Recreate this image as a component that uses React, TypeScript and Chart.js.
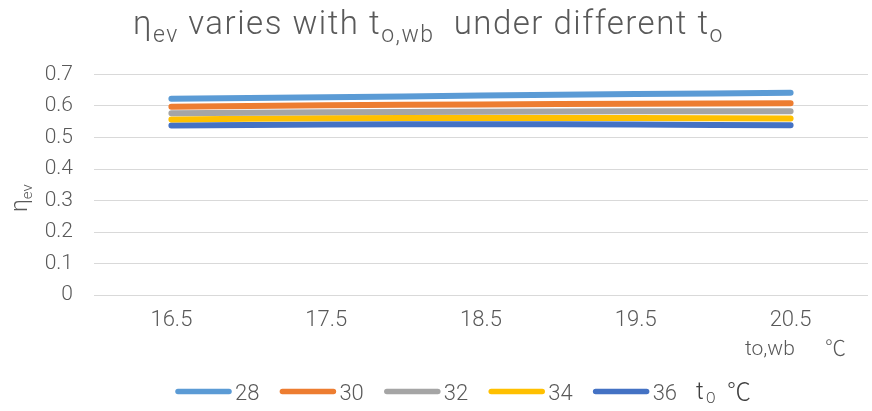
import { useEffect, useRef } from "react";
import { Chart, registerables } from "chart.js";

Chart.register(...registerables);

// Wet-bulb temperature categories (°C)
const categories = ["16.5", "17.5", "18.5", "19.5", "20.5"];

// Outdoor dry-bulb temperature series labels (°C)
const seriesLabels = ["28", "30", "32", "34", "36"];

// Evaporative efficiency for each outdoor temperature
const eta28 = [0.623, 0.628, 0.633, 0.638, 0.642];
const eta30 = [0.598, 0.602, 0.605, 0.607, 0.609];
const eta32 = [0.577, 0.58, 0.582, 0.583, 0.583];
const eta34 = [0.557, 0.561, 0.562, 0.562, 0.56];
const eta36 = [0.538, 0.541, 0.542, 0.541, 0.539];

const seriesValues = [eta28, eta30, eta32, eta34, eta36];
const seriesColors = ["#5B9BD5", "#ED7D31", "#A5A5A5", "#FFC000", "#4472C4"];

const yMin = 0;
const yMax = 0.7;
const yStep = 0.1;

const FONT = "Roboto, 'Noto Sans CJK SC', sans-serif";
const TEXT = "#595959";

type Run = [string, boolean];

// Draws a run of text pieces, where pieces flagged true are subscripts.
function drawRuns(
  ctx: CanvasRenderingContext2D,
  runs: Run[],
  x: number,
  y: number,
  size: number,
  subSize: number,
  subDrop: number
) {
  let cx = x;
  for (const [txt, sub] of runs) {
    ctx.font = `300 ${sub ? subSize : size}px ${FONT}`;
    ctx.fillText(txt, cx, sub ? y + subDrop : y);
    cx += ctx.measureText(txt).width;
  }
  return cx;
}

const annotations = {
  id: "annotations",
  afterDraw(chart: any) {
    const ctx: CanvasRenderingContext2D = chart.ctx;
    ctx.save();
    ctx.fillStyle = TEXT;
    ctx.textAlign = "left";
    ctx.textBaseline = "alphabetic";

    // Title
    (ctx as any).letterSpacing = "1.5px";
    drawRuns(
      ctx,
      [
        ["η", false],
        ["ev", true],
        [" varies with t", false],
        ["o,wb", true],
        ["  under different t", false],
        ["o", true],
      ],
      133,
      34,
      33,
      23,
      8
    );
    (ctx as any).letterSpacing = "0px";

    // Y axis title, rotated
    ctx.save();
    ctx.translate(27, 212);
    ctx.rotate(-Math.PI / 2);
    drawRuns(ctx, [["η", false], ["ev", true]], 0, 0, 23, 15, 5);
    ctx.restore();

    // X axis unit label
    ctx.font = `300 21px ${FONT}`;
    ctx.fillText("to,wb", 745, 355);
    ctx.fillText("℃", 825, 355);

    // Legend
    const cy = 391.5;
    let x = 175;
    chart.data.datasets.forEach((ds: any) => {
      ctx.strokeStyle = ds.borderColor;
      ctx.lineWidth = 5.5;
      ctx.lineCap = "round";
      ctx.beginPath();
      ctx.moveTo(x + 3, cy);
      ctx.lineTo(x + 54, cy);
      ctx.stroke();
      x += 60;
      ctx.font = `300 22px ${FONT}`;
      ctx.fillStyle = TEXT;
      ctx.fillText(ds.label, x, cy + 8);
      x += ctx.measureText(ds.label).width + 20;
    });
    ctx.fillStyle = "#404040";
    ctx.font = `300 24px ${FONT}`;
    ctx.fillText("t", 696, cy + 7);
    ctx.font = `300 14px ${FONT}`;
    ctx.fillText("O", 706, cy + 11);
    ctx.font = `300 24px ${FONT}`;
    ctx.fillText("℃", 727, cy + 8);
    ctx.restore();
  },
};

export default function App() {
  const ref = useRef<HTMLCanvasElement>(null);

  useEffect(() => {
    if (!ref.current) return;
    const chart = new Chart(ref.current, {
      type: "line",
      data: {
        labels: categories,
        datasets: seriesLabels.map((label, i) => ({
          label,
          data: seriesValues[i],
          borderColor: seriesColors[i],
          backgroundColor: seriesColors[i],
          borderWidth: 6,
          borderCapStyle: "round" as const,
          pointRadius: 0,
          tension: 0.4,
          fill: false,
        })),
      },
      options: {
        animation: false,
        responsive: false,
        maintainAspectRatio: false,
        layout: { padding: { top: 74.5, right: 4, left: 0, bottom: 0 } },
        plugins: {
          legend: { display: false },
          title: { display: false },
          tooltip: { enabled: false },
        },
        scales: {
          x: {
            type: "category",
            offset: true,
            grid: { display: false, drawTicks: false },
            border: { display: false },
            ticks: {
              color: TEXT,
              font: { family: FONT, size: 22, weight: 300 as any },
              padding: 12,
              maxRotation: 0,
            },
            afterFit: (s: any) => {
              s.height = 116;
            },
          },
          y: {
            min: yMin,
            max: yMax,
            grid: { color: "#D9D9D9", lineWidth: 1, drawTicks: false },
            border: { display: false },
            ticks: {
              stepSize: yStep,
              color: TEXT,
              font: { family: FONT, size: 21, weight: 300 as any },
              padding: 21,
              callback: (v: any) => String(Math.round(Number(v) * 10) / 10),
            },
            afterFit: (s: any) => {
              s.width = 94;
            },
          },
        },
      },
      plugins: [annotations],
    });
    return () => chart.destroy();
  }, []);

  return (
    <div style={{ position: "fixed", left: 0, top: 0, width: 872, height: 411, background: "#fff" }}>
      <canvas ref={ref} width={872} height={411} />
    </div>
  );
}
